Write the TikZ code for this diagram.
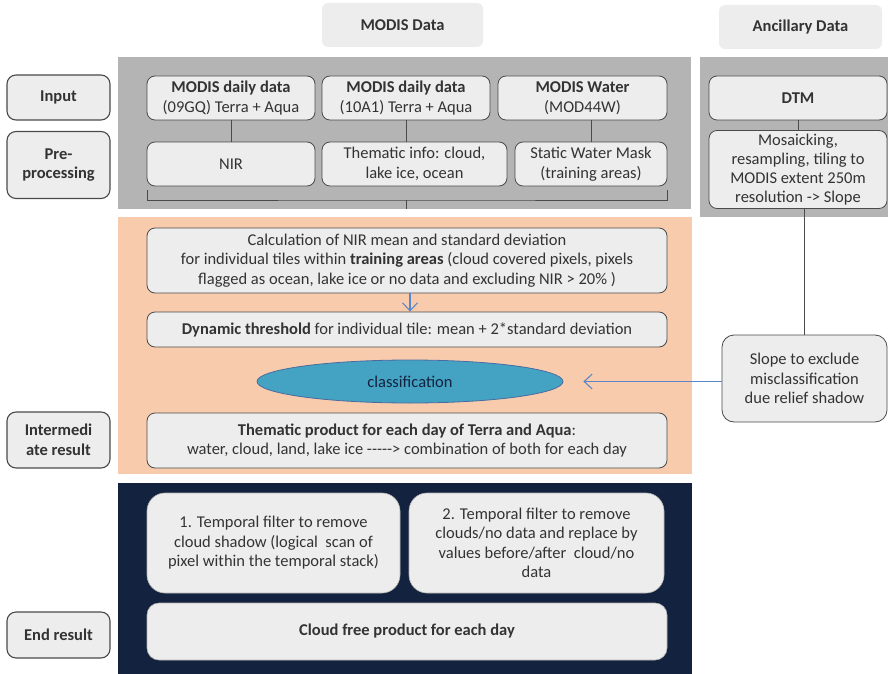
\documentclass[tikz,border=0pt]{standalone}
\usepackage{fontspec}
\setmainfont{Carlito}
\usetikzlibrary{arrows.meta,shapes.geometric}
\definecolor{panelgray}{HTML}{B4B4B4}
\definecolor{peach}{HTML}{F8CBAD}
\definecolor{navy}{HTML}{13223E}
\definecolor{boxfill}{HTML}{EDEDED}
\definecolor{boxline}{HTML}{4A4A4A}
\definecolor{txt}{HTML}{333333}
\definecolor{teal}{HTML}{44A3C3}
\definecolor{arrowblue}{HTML}{5B87C8}
\tikzset{
  txtfont/.style={font=\fontsize{16.5}{19.5}\selectfont, text=txt, align=center},
  header/.style={txtfont, font=\fontsize{16.5}{19.5}\selectfont\bfseries, fill=boxfill, rounded corners=6pt},
  label/.style={txtfont, font=\fontsize{16.5}{19.5}\selectfont\bfseries, draw=boxline, line width=1.1pt, fill=boxfill, rounded corners=9pt, minimum width=103pt},
  databox/.style={txtfont, draw=boxline, line width=0.8pt, fill=boxfill, rounded corners=8pt, inner sep=0pt},
  filterbox/.style={txtfont, draw=gray!60, line width=0.6pt, fill=boxfill, rounded corners=18pt, inner sep=0pt},
  link/.style={boxline, line width=1pt},
  bluearrow/.style={arrowblue, line width=1.1pt, -{Straight Barb[length=8pt,width=15pt]}}
}
\begin{document}
\begin{tikzpicture}[x=1pt, y=-1pt]
  \useasboundingbox (0,0) rectangle (888,674);
  \fill [panelgray] (118,57) rectangle (691,209);
  \fill [panelgray] (700,57) rectangle (888,217);
  \fill [peach] (118,217) rectangle (692,474);
  \fill [navy] (118,483) rectangle (692,674);
  \node[header, minimum width=161pt, minimum height=44pt] (hmodis) at (402.5,25) {MODIS Data};
  \node[header, minimum width=163pt, minimum height=44pt] (hanc) at (800.5,27) {Ancillary Data};
  \node[label, minimum height=45pt] (linput) at (58.5,97.5) {Input};
  \node[label, minimum height=67pt] (lpre) at (58.5,165) {Pre-\\processing};
  \node[label, minimum height=56pt] (linter) at (58.5,440) {Intermedi\\ate result};
  \node[label, minimum height=46pt] (lend) at (58.5,635) {End result};
  \node[databox, minimum width=168pt, minimum height=44pt] (d09) at (231,98) {\textbf{MODIS daily data}\\(09GQ) Terra + Aqua};
  \node[databox, minimum width=168pt, minimum height=44pt] (d10) at (406,98) {\textbf{MODIS daily data}\\(10A1) Terra + Aqua};
  \node[databox, minimum width=169pt, minimum height=44pt] (dwater) at (582.5,98) {\textbf{MODIS Water}\\(MOD44W)};
  \node[databox, minimum width=168pt, minimum height=44pt] (nir) at (231,164) {NIR};
  \node[databox, minimum width=185pt, minimum height=44pt] (thinfo) at (414.5,164) {Thematic info: cloud,\\lake ice, ocean};
  \node[databox, minimum width=152pt, minimum height=44pt] (mask) at (591,164) {Static Water Mask\\(training areas)};
  \node[databox, minimum width=178pt, minimum height=44pt] (dtm) at (798,98) {\textbf{DTM}};
  \node[databox, minimum width=178pt, minimum height=78pt, font=\fontsize{16.5}{19}\selectfont] (mosaic) at (798,169.5) {Mosaicking,\\resampling, tiling to\\MODIS extent 250m\\resolution -> Slope};
  \node[databox, minimum width=165pt, minimum height=87pt, rounded corners=12pt] (slope) at (804.5,378.5) {Slope to exclude\\misclassification\\due relief shadow};
  \node[databox, minimum width=520pt, minimum height=65pt] (calc) at (407,260.5) {Calculation of NIR mean and standard deviation\\for individual tiles within \textbf{training areas} (cloud covered pixels, pixels\\flagged as ocean, lake ice or no data and excluding NIR > 20\% )};
  \node[databox, minimum width=520pt, minimum height=35pt] (dyn) at (407,329.5) {\textbf{Dynamic threshold} for individual tile: mean + 2*standard deviation};
  \node[ellipse, draw=arrowblue!80!black, line width=0.8pt, fill=teal, minimum width=306pt, minimum height=43pt, txtfont, text=navy] (cls) at (410,381.5) {classification};
  \node[databox, minimum width=520pt, minimum height=55pt] (thprod) at (407,440.5) {\textbf{Thematic product for each day of Terra and Aqua}:\\water, cloud, land, lake ice -{}-{}-{}-{}-> combination of both for each day};
  \node[filterbox, minimum width=253pt, minimum height=100pt] (filt1) at (273.5,543) {1. Temporal filter to remove\\cloud shadow (logical~ scan of\\pixel within the temporal stack)};
  \node[filterbox, minimum width=255pt, minimum height=100pt] (filt2) at (536.5,543) {2. Temporal filter to remove\\clouds/no data and replace by\\values before/after~ cloud/no\\data};
  \node[filterbox, minimum width=520pt, minimum height=57pt, rounded corners=12pt] (free) at (407,631.5) {\textbf{Cloud free product for each day}};
  \coordinate (brl) at (147,190);
  \coordinate (brr) at (667,190);
  \coordinate (brm) at (406,200);
  \coordinate (brend) at (406,209);
  \draw[link] (d09) -- (nir);
  \draw[link] (d10.south) -- (d10.south |- thinfo.north);
  \draw[link] (mask.north |- dwater.south) -- (mask.north);
  \draw[link] (dtm) -- (mosaic);
  \draw[link] (slope.north |- mosaic.south) -- (slope.north);
  \draw[link] (brl) |- (brm) -| (brr);
  \draw[link] (brm) -- (brend);
  \draw[bluearrow] (calc.south -| cls) -- (dyn.north -| cls);
  \draw[bluearrow, shorten >=20pt] (slope.west |- cls) -- (cls.east);
\end{tikzpicture}
\end{document}
